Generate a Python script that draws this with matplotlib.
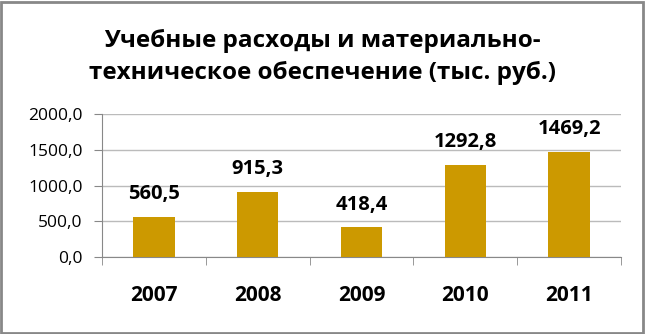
import matplotlib
matplotlib.use("Agg")
import matplotlib.pyplot as plt
from matplotlib.patches import Rectangle

years = ["2007", "2008", "2009", "2010", "2011"]
values = [560.5, 915.3, 418.4, 1292.8, 1469.2]
value_labels = ["560,5", "915,3", "418,4", "1292,8", "1469,2"]
yticks = [0, 500, 1000, 1500, 2000]
ytick_labels = ["0,0", "500,0", "1000,0", "1500,0", "2000,0"]
title = "Учебные расходы и материально-\nтехническое обеспечение (тыс. руб.)"

plt.rcParams['font.family'] = ['Open Sans', 'DejaVu Sans']

fig = plt.figure(figsize=(6.45, 3.34), dpi=100)
fig.patches.append(Rectangle((0.002, 0.003), 0.995, 0.992, transform=fig.transFigure,
                             fill=False, edgecolor='#888888', linewidth=2))
ax = fig.add_axes([102/645, 1-257/334, (621-102)/645, (257-114)/334])

x = list(range(len(years)))
bars = ax.bar(x, values, width=0.4, color='#CC9900', zorder=3)
for xi, v, lab in zip(x, values, value_labels):
    ax.annotate(lab, (xi, v), xytext=(0, 9), textcoords='offset points',
                ha='center', va='bottom', fontsize=14.5, fontweight='bold')

ax.set_xlim(-0.5, len(years) - 0.5)
ax.set_ylim(0, 2000)
ax.set_yticks(yticks)
ax.set_yticklabels(ytick_labels, fontsize=12.5)
ax.set_xticks(x)
ax.set_xticklabels(years, fontsize=15, fontweight='bold')
ax.tick_params(axis='x', length=0, pad=20)
ax.set_xticks([i - 0.5 for i in range(len(years) + 1)], minor=True)
ax.tick_params(axis='x', which='minor', length=6, color='#888888', direction='out')
ax.tick_params(axis='y', length=6, color='#888888', direction='out', pad=8)
ax.grid(axis='y', color='#BBBBBB', linewidth=1, zorder=0)
for s in ['top', 'right']:
    ax.spines[s].set_visible(False)
for s in ['left', 'bottom']:
    ax.spines[s].set_color('#888888')

fig.text(0.5, 1-57/334, title, ha='center', va='center', fontsize=17.5,
         fontweight='bold', linespacing=1.4)

fig.savefig("out.png", dpi=100)
